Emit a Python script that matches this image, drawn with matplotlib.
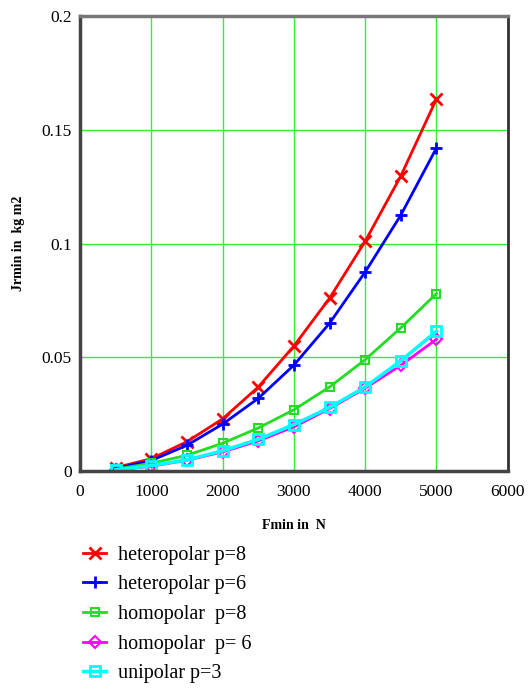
import numpy as np
import matplotlib
matplotlib.use("Agg")
import matplotlib.pyplot as plt

plt.rcParams['font.family'] = ['Liberation Serif', 'DejaVu Serif']

# Data
F = [500, 1000, 1500, 2000, 2500, 3000, 3500, 4000, 4500, 5000]
hetero8 = [0.0016, 0.0055, 0.013, 0.023, 0.037, 0.055, 0.076, 0.101, 0.1297, 0.1635]
hetero6 = [0.0012, 0.0047, 0.0114, 0.0207, 0.032, 0.0466, 0.065, 0.0875, 0.1125, 0.142]
homo8 = [0.0009, 0.0035, 0.007, 0.0123, 0.019, 0.027, 0.037, 0.049, 0.063, 0.078]
homo6 = [0.0005, 0.0022, 0.0048, 0.0085, 0.0133, 0.0195, 0.0275, 0.0365, 0.0465, 0.058]
uni3 = [0.0006, 0.0025, 0.005, 0.009, 0.014, 0.0205, 0.028, 0.037, 0.0485, 0.0615]

labels = ['heteropolar p=8', 'heteropolar p=6', 'homopolar  p=8',
          'homopolar  p= 6', 'unipolar p=3']

fig = plt.figure(figsize=(5.3, 6.93), dpi=100)
ax = fig.add_axes([0.151, 0.320, 0.807, 0.657])

ax.grid(True, color='#33ee33', linewidth=1.0)
ax.set_axisbelow(True)

ax.plot(F, hetero8, color='red', lw=2, marker='x', ms=9, mew=2, label=labels[0])
ax.plot(F, hetero6, color='blue', lw=2, marker='+', ms=9, mew=2, label=labels[1])
ax.plot(F, homo8, color='#22dd22', lw=2, marker='s', ms=6, mfc='none', mew=1.5, label=labels[2])
ax.plot(F, homo6, color='magenta', lw=2, marker='D', ms=6, mfc='none', mew=1.5, label=labels[3])
ax.plot(F, uni3, color='cyan', lw=2.5, marker='s', ms=7, mfc='none', mew=2, label=labels[4])

ax.set_xlim(0, 6000)
ax.set_ylim(0, 0.2)
ax.set_xticks([0, 1000, 2000, 3000, 4000, 5000, 6000])
ax.set_yticks([0, 0.05, 0.1, 0.15, 0.2])
ax.set_yticklabels(['0', '0.05', '0.1', '0.15', '0.2'])
ax.tick_params(length=0, labelsize=12.5)
ax.tick_params(axis='x', pad=9)
ax.tick_params(axis='y', pad=6)

for s in ['left', 'bottom']:
    ax.spines[s].set_linewidth(2.5)
    ax.spines[s].set_color('#444444')
ax.spines['top'].set_linewidth(2.5)
ax.spines['top'].set_color('#777777')
ax.spines['right'].set_linewidth(2)
ax.spines['right'].set_color('#333333')

ax.set_xlabel('Fmin in  N', fontsize=10, fontweight='bold', labelpad=14)
ax.set_ylabel('Jrmin in  kg m2', fontsize=10, fontweight='bold', labelpad=12)

fig.legend(loc='upper left', bbox_to_anchor=(0.138, 0.227), frameon=False,
           fontsize=14.5, handlelength=1.15, handletextpad=0.6, labelspacing=0.52,
           borderpad=0)

fig.savefig('out.png', dpi=100)
